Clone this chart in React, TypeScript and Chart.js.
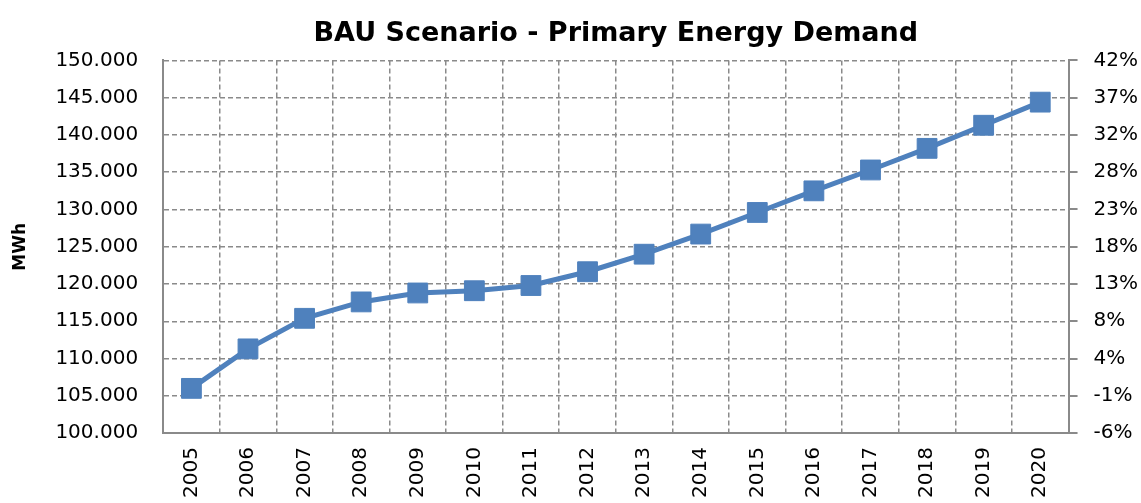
import React, { useEffect, useRef } from "react";
import { Chart, registerables } from "chart.js";

Chart.register(...registerables);

const years = ["2005","2006","2007","2008","2009","2010","2011","2012","2013","2014","2015","2016","2017","2018","2019","2020"];
const demandMWh = [106000, 111300, 115400, 117600, 118800, 119100, 119800, 121650, 124000, 126700, 129600, 132500, 135300, 138200, 141300, 144400];
const leftMin = 100000;
const leftMax = 150000;
const leftStep = 5000;
const rightMin = -6;
const rightMax = 42;
const rightStep = 4.8;

const titleText = "BAU Scenario - Primary Energy Demand";
const yTitle = "MWh";

function fmtThousands(v: number): string {
  const n = Math.round(v);
  const s = String(Math.abs(n)).replace(/\B(?=(\d{3})+(?!\d))/g, ".");
  return (n < 0 ? "-" : "") + s;
}

export default function App() {
  const ref = useRef<HTMLCanvasElement | null>(null);
  useEffect(() => {
    if (!ref.current) return;
    const FONT = "'DejaVu Sans', sans-serif";
    const gridColor = "#8a8a8a";
    const axisColor = "#8a8a8a";
    const chart = new Chart(ref.current, {
      type: "line",
      data: {
        labels: years,
        datasets: [
          {
            label: "Primary Energy Demand",
            data: demandMWh,
            borderColor: "#4F81BD",
            backgroundColor: "#4F81BD",
            borderWidth: 5,
            pointStyle: "rect",
            pointRadius: 14,
            pointHoverRadius: 14,
            pointBackgroundColor: "#4F81BD",
            pointBorderColor: "#4F81BD",
            pointBorderWidth: 1,
            tension: 0,
            yAxisID: "y",
          },
        ],
      },
      options: {
        animation: false,
        responsive: false,
        maintainAspectRatio: false,
        layout: { padding: { left: 4, right: -13, top: 0, bottom: -9 } },
        plugins: {
          legend: { display: false },
          tooltip: { enabled: false },
          title: {
            display: true,
            text: titleText,
            fullSize: false,
            color: "#000",
            font: { family: FONT, size: 27, weight: "bold" },
            padding: { top: 18, bottom: 10 },
          },
        },
        scales: {
          x: {
            type: "category",
            offset: true,
            grid: {
              offset: true,
              display: true,
              drawTicks: false,
              color: gridColor,
              lineWidth: 1.5,
            },
            border: { display: true, color: axisColor, width: 2, dash: [5, 3] },
            ticks: {
              color: "#000",
              font: { family: FONT, size: 20 },
              minRotation: 90,
              maxRotation: 90,
              padding: 14,
              autoSkip: false,
            },
          },
          y: {
            type: "linear",
            position: "left",
            min: leftMin,
            max: leftMax,
            grid: {
              drawTicks: false,
              color: gridColor,
              lineWidth: 1.5,
            },
            border: { display: true, color: axisColor, width: 2, dash: [5, 3] },
            ticks: {
              stepSize: leftStep,
              color: "#000",
              font: { family: FONT, size: 20 },
              padding: 25,
              callback: (v: any) => fmtThousands(Number(v)),
            },
            title: {
              display: true,
              text: yTitle,
              color: "#000",
              font: { family: FONT, size: 17, weight: "bold" },
              padding: { top: 6, bottom: 0 },
            },
          },
          y1: {
            type: "linear",
            position: "right",
            min: rightMin,
            max: rightMax,
            grid: {
              drawOnChartArea: false,
              drawTicks: true,
              tickLength: 9,
              color: axisColor,
              lineWidth: 2,
            },
            border: { display: true, color: axisColor, width: 2 },
            ticks: {
              stepSize: rightStep,
              color: "#000",
              font: { family: FONT, size: 20 },
              padding: 16,
              callback: (v: any) => Math.round(Number(v)) + "%",
            },
          },
        },
      },
    });
    return () => chart.destroy();
  }, []);
  return (
    <div style={{ position: "absolute", left: 0, top: 0, width: 1141, height: 503, background: "#fff" }}>
      <canvas ref={ref} width={1141} height={503} style={{ width: 1141, height: 503 }} />
    </div>
  );
}
